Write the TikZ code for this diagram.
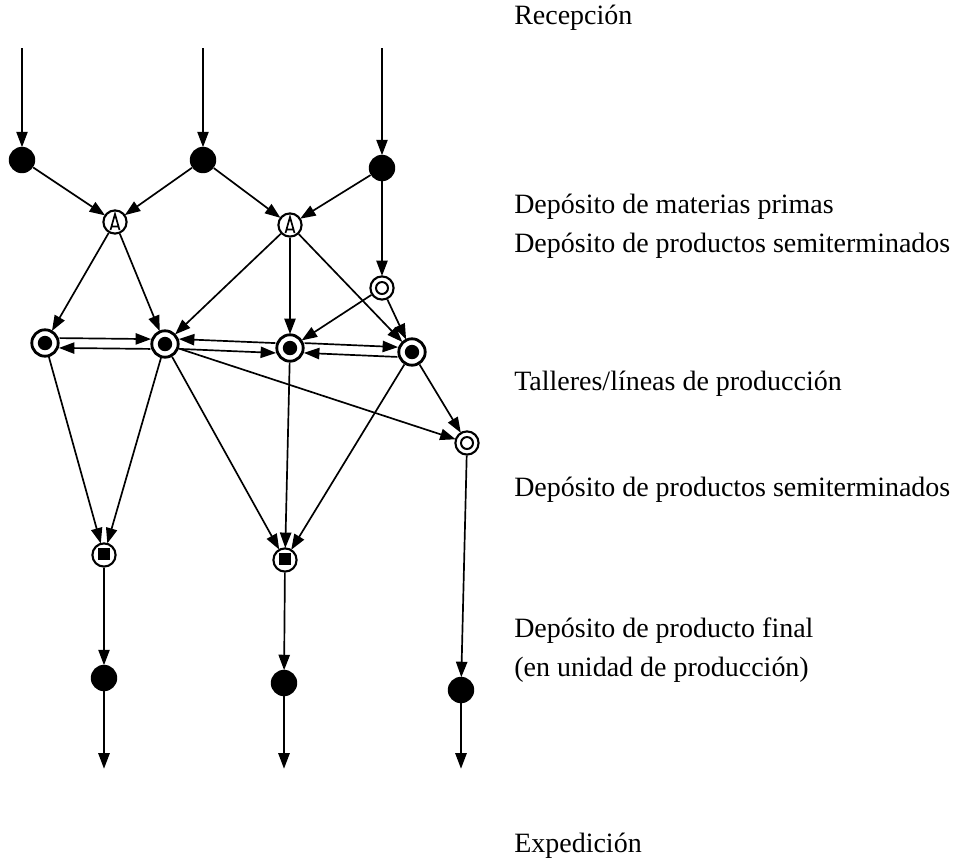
\documentclass[tikz,border=0pt]{standalone}
\usepackage{fontspec}
\setmainfont{Liberation Serif}
\usetikzlibrary{arrows.meta,positioning}

\begin{document}
\begin{tikzpicture}[x=0.025cm,y=-0.025cm]
\tikzset{arr/.style={-{Triangle[length=11pt,width=8pt]},line width=1.2pt,shorten >=-0.5pt}}
\tikzset{full/.style={circle,fill,minimum size=0.66cm,inner sep=0pt}}
\tikzset{ring/.style={circle,draw,line width=1.5pt,fill=white,minimum size=0.58cm,inner sep=0pt}}
\tikzset{tri/.style={ring,path picture={\draw[black,line width=1.2pt,shift={(path picture bounding box.center)}] (-4.5,8) -- (0,-8) -- (4.5,8) (-3.5,4.5) -- (3.5,4.5);}}}
\tikzset{dbl/.style={ring,path picture={\draw[black,line width=1.4pt] (path picture bounding box.center) circle (0.15cm);}}}
\tikzset{dot/.style={ring,line width=2pt,minimum size=0.66cm,path picture={\fill[black] (path picture bounding box.center) circle (0.18cm);}}}
\tikzset{sq/.style={ring,path picture={\fill[black,shift={(path picture bounding box.center)}] (-6,-7) rectangle (6,5);}}}
\tikzset{lbl/.style={anchor=west,align=left,font=\fontsize{19.9}{28}\selectfont,inner sep=0pt}}
\useasboundingbox (0,0) rectangle (968,864);

% entries
\coordinate (in1) at (22,48);
\coordinate (in2) at (203,48);
\coordinate (in3) at (382,48);
\node[full] (a1) at (22,160) {};
\node[full] (a2) at (203,160) {};
\node[full] (a3) at (382,168) {};

% raw material stores
\node[tri] (t1) at (115,222) {};
\node[tri] (t2) at (290,225) {};
\node[dbl] (d1) at (382,288) {};

% workshops
\node[dot] (c1) at (45,343) {};
\node[dot] (c2) at (165,344) {};
\node[dot] (c3) at (290,348) {};
\node[dot] (c4) at (412,352) {};
\node[dbl] (d2) at (467,443) {};

% final stores
\node[sq] (s1) at (104,555) {};
\node[sq] (s2) at (285,560) {};
\node[full] (b1) at (104,678) {};
\node[full] (b2) at (284,683) {};
\node[full] (b3) at (461,690) {};
\coordinate (out1) at (104,768);
\coordinate (out2) at (284,768);
\coordinate (out3) at (461,768);

% connectors
\draw[arr] (in1) -- (a1);
\draw[arr] (in2) -- (a2);
\draw[arr] (in3) -- (a3);
\draw[arr] (a1) -- (t1);
\draw[arr] (a2) -- (t1);
\draw[arr] (a2) -- (t2);
\draw[arr] (a3) -- (t2);
\draw[arr] (a3) -- (d1);
\draw[arr] (t1) -- (c1);
\draw[arr] (t1) -- (c2);
\draw[arr] (t2) -- (c2);
\draw[arr] (t2) -- (c3);
\draw[arr] (t2) -- (c4);
\draw[arr] (d1) -- (c3);
\draw[arr] (d1) -- (c4);
\draw[arr] ([yshift=3.5pt]c1.east) -- ([yshift=3.5pt]c2.west);
\draw[arr] ([yshift=-3.5pt]c2.west) -- ([yshift=-3.5pt]c1.east);
\draw[arr] ([yshift=3.5pt]c3.west) -- ([yshift=3.5pt]c2.east);
\draw[arr] ([yshift=-3.5pt]c2.east) -- ([yshift=-3.5pt]c3.west);
\draw[arr] ([yshift=3.5pt]c3.east) -- ([yshift=3.5pt]c4.west);
\draw[arr] ([yshift=-3.5pt]c4.west) -- ([yshift=-3.5pt]c3.east);
\draw[arr] (c1) -- (s1);
\draw[arr] (c2) -- (s1);
\draw[arr] (c2) -- (s2);
\draw[arr] (c3) -- (s2);
\draw[arr] (c4) -- (s2);
\draw[arr] (c2) -- (d2);
\draw[arr] (c4) -- (d2);
\draw[arr] (s1) -- (b1);
\draw[arr] (s2) -- (b2);
\draw[arr] (d2) -- (b3);
\draw[arr] (b1) -- (out1);
\draw[arr] (b2) -- (out2);
\draw[arr] (b3) -- (out3);

% stage labels
\node[lbl] (l1) at (514,18) {Recepción};
\node[lbl] (l2) at (514,226) {Depósito de materias primas\\Depósito de productos semiterminados};
\node[lbl] (l3) at (514,384) {Talleres/líneas de producción};
\node[lbl] (l4) at (514,490) {Depósito de productos semiterminados};
\node[lbl] (l5) at (514,650) {Depósito de producto final\\(en unidad de producción)};
\node[lbl] (l6) at (514,846) {Expedición};
\end{tikzpicture}
\end{document}
